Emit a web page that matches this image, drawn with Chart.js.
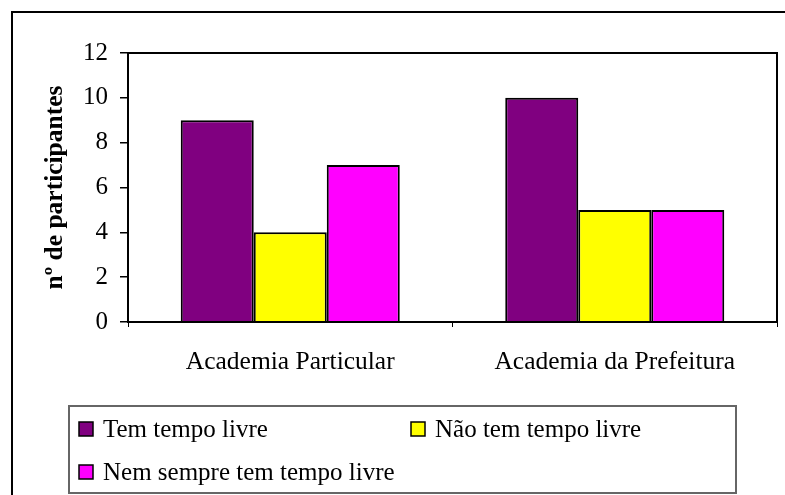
<!DOCTYPE html>
<html>
<head>
<meta charset="utf-8">
<script src="https://cdn.jsdelivr.net/npm/chart.js@4/dist/chart.umd.min.js"></script>
<style>
  html, body { margin: 0; padding: 0; background: #fff; }
  #wrap { width: 785px; height: 495px; }
</style>
</head>
<body>
<div id="wrap"><canvas id="c" width="785" height="495"></canvas></div>
<script>
// Participants by gym type and free-time answer
const categories = ['Academia Particular', 'Academia da Prefeitura'];
const seriesNames = ['Tem tempo livre', 'Não tem tempo livre', 'Nem sempre tem tempo livre'];
const temTempoLivre = [9, 10];
const naoTemTempoLivre = [4, 5];
const nemSempreTemTempoLivre = [7, 5];
const seriesColors = ['#800080', '#FFFF00', '#FF00FF'];
const yMin = 0, yMax = 12, yStep = 2;
const yTitle = 'nº de participantes';

const SERIF = '"Liberation Serif", "Times New Roman", serif';

// Frame lines around the whole figure and around the plot area
const framePlugin = {
  id: 'frame',
  beforeDraw(chart) {
    const ctx = chart.ctx;
    ctx.save();
    ctx.fillStyle = '#fff';
    ctx.fillRect(0, 0, chart.width, chart.height);
    ctx.strokeStyle = '#000';
    ctx.lineWidth = 2;
    ctx.beginPath();
    ctx.moveTo(12, chart.height + 2);
    ctx.lineTo(12, 12);
    ctx.lineTo(chart.width + 2, 12);
    ctx.stroke();
    ctx.restore();
  },
  afterDatasetsDraw(chart) {
    const a = chart.chartArea;
    const ctx = chart.ctx;
    ctx.save();
    ctx.strokeStyle = '#000';
    ctx.lineWidth = 2;
    ctx.strokeRect(a.left, a.top, a.right - a.left, a.bottom - a.top);
    ctx.restore();
  }
};

// Boxed two-column legend under the plot
const boxLegendPlugin = {
  id: 'boxLegend',
  afterDraw(chart) {
    const ctx = chart.ctx;
    const box = { x: 69, y: 406, w: 667, h: 87 };
    const cols = [79, 411];
    const rows = [429, 472];
    ctx.save();
    ctx.strokeStyle = '#666';
    ctx.lineWidth = 2;
    ctx.strokeRect(box.x, box.y, box.w, box.h);
    ctx.font = '25px ' + SERIF;
    ctx.textBaseline = 'middle';
    ctx.textAlign = 'left';
    chart.data.datasets.forEach((ds, i) => {
      const x = cols[i % 2];
      const y = rows[Math.floor(i / 2)];
      ctx.fillStyle = ds.backgroundColor;
      ctx.fillRect(x, y - 7, 14, 14);
      ctx.strokeStyle = '#000';
      ctx.lineWidth = 1.5;
      ctx.strokeRect(x, y - 7, 14, 14);
      ctx.fillStyle = '#000';
      ctx.fillText(ds.label, x + 24, y + 1);
    });
    ctx.restore();
  }
};

const seriesValues = [temTempoLivre, naoTemTempoLivre, nemSempreTemTempoLivre];

new Chart(document.getElementById('c'), {
  type: 'bar',
  data: {
    labels: categories,
    datasets: seriesNames.map((name, i) => ({
      label: name,
      data: seriesValues[i],
      backgroundColor: seriesColors[i],
      borderColor: '#000',
      borderWidth: 2,
      categoryPercentage: 0.675,
      barPercentage: 1
    }))
  },
  options: {
    responsive: false,
    animation: false,
    events: [],
    layout: { padding: { left: 12, top: 53, right: 8, bottom: 93 } },
    plugins: {
      legend: { display: false },
      tooltip: { enabled: false }
    },
    scales: {
      x: {
        grid: {
          offset: true,
          drawOnChartArea: false,
          drawTicks: true,
          tickLength: 5,
          color: '#000',
          lineWidth: 1
        },
        border: { display: true, color: '#000', width: 2 },
        ticks: {
          color: '#000',
          font: { family: SERIF, size: 25.5 },
          padding: 20,
          maxRotation: 0
        },
        afterFit(scale) { scale.height = 80; }
      },
      y: {
        min: yMin,
        max: yMax,
        ticks: {
          stepSize: yStep,
          color: '#000',
          font: { family: SERIF, size: 25 },
          padding: 12
        },
        grid: {
          drawOnChartArea: false,
          drawTicks: true,
          tickLength: 8,
          color: '#000',
          lineWidth: 1.5
        },
        border: { display: true, color: '#000', width: 2 },
        title: {
          display: true,
          text: yTitle,
          color: '#000',
          font: { family: SERIF, size: 25.5, weight: 'bold' },
          padding: { top: 28, bottom: 0 }
        },
        afterFit(scale) { scale.width = 116; }
      }
    }
  },
  plugins: [framePlugin, boxLegendPlugin]
});
</script>
</body>
</html>
